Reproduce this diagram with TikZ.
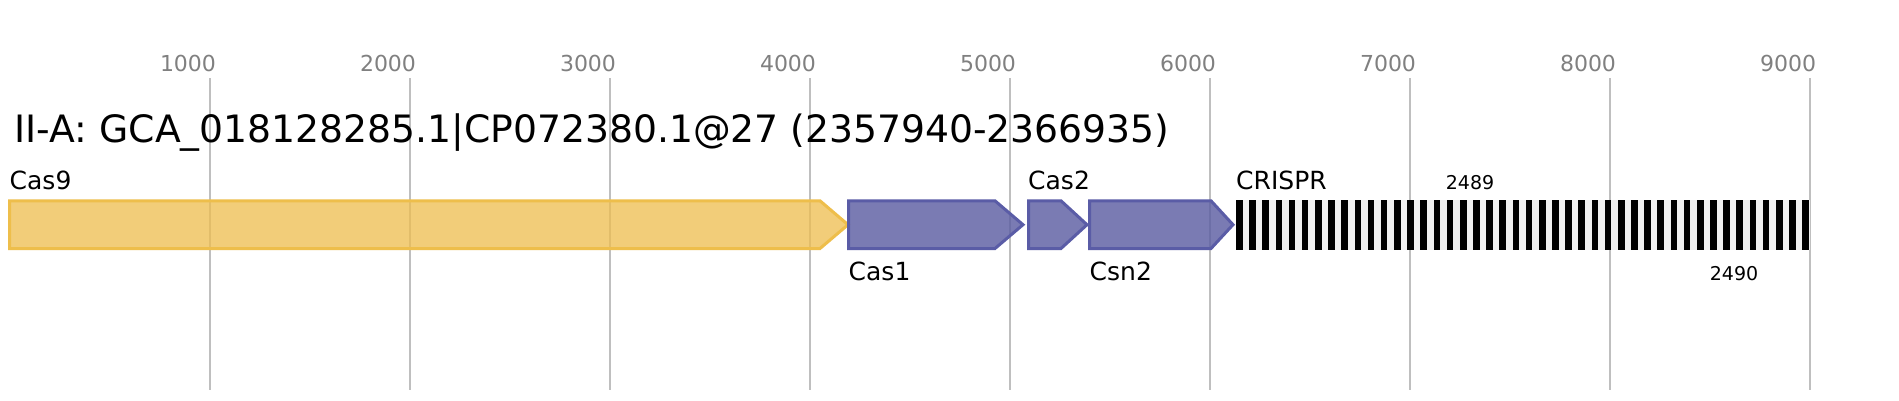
\documentclass[tikz,border=0pt]{standalone}
\usepackage{fontspec}
\setmainfont{DejaVu Sans}
\definecolor{gridc}{RGB}{191,191,191}
\definecolor{axisc}{RGB}{128,128,128}
\definecolor{casY}{RGB}{238,190,75}
\definecolor{casYf}{RGB}{238,189,79}
\definecolor{casP}{RGB}{90,92,166}
\definecolor{casPf}{RGB}{89,91,161}
\definecolor{spacerc}{RGB}{240,240,240}
\tikzset{
  gridline/.style={draw=gridc, line width=2pt},
  axislabel/.style={text=axisc, inner sep=0pt, anchor=base, font=\fontsize{22}{26}\selectfont},
  titlelabel/.style={inner sep=0pt, anchor=base west, font=\fontsize{37.7}{42}\selectfont},
  genelabel/.style={inner sep=0pt, anchor=base west, font=\fontsize{25}{30}\selectfont},
  smalllabel/.style={inner sep=0pt, anchor=base, font=\fontsize{19}{22}\selectfont},
  geneY/.style={draw=casY, fill=casYf, fill opacity=0.755, line width=3pt, line join=miter},
  geneP/.style={draw=casP, fill=casPf, fill opacity=0.8, line width=3pt, line join=miter},
  repeatbar/.style={fill=black},
  spacerbar/.style={fill=spacerc}
}
\begin{document}
\begin{tikzpicture}[x=1pt,y=-1pt]
\useasboundingbox (0,0) rectangle (1899,400);
\fill[white] (0,0) rectangle (1899,400);
% grid and axis
\foreach \k in {1,...,9} {
  \pgfmathsetmacro{\gx}{210+200*(\k-1)}
  \draw[gridline] (\gx,78) -- (\gx,390);
  \node[axislabel] (ax\k) at (\gx-22,71) {\k000};
}
% title
\node[titlelabel] (title) at (14.5,142) {II-A: GCA\_018128285.1|CP072380.1@27 (2357940-2366935)};
% genes
\draw[geneY] (9.5,200.8) -- (820,200.8) -- (848,224.7) -- (820,248.5) -- (9.5,248.5) -- cycle;
\draw[geneP] (848.5,200.8) -- (995,200.8) -- (1023,224.7) -- (995,248.5) -- (848.5,248.5) -- cycle;
\draw[geneP] (1028.5,200.8) -- (1061,200.8) -- (1087,224.7) -- (1061,248.5) -- (1028.5,248.5) -- cycle;
\draw[geneP] (1089.5,200.8) -- (1211,200.8) -- (1233,224.7) -- (1211,248.5) -- (1089.5,248.5) -- cycle;
% CRISPR array
\fill[spacerbar] (1236,199.5) rectangle (1809.5,250);
\foreach \i in {0,...,43} {
  \fill[repeatbar] ({1236+\i*13.17},199.5) rectangle ++(6.6,50.5);
}
% labels
\node[genelabel] (lcas9) at (9.5,189) {Cas9};
\node[genelabel] (lcas1) at (848.5,280) {Cas1};
\node[genelabel] (lcas2) at (1028,189) {Cas2};
\node[genelabel] (lcsn2) at (1089.5,280) {Csn2};
\node[genelabel] (lcrispr) at (1236,189) {CRISPR};
\node[smalllabel] (l2489) at (1470,189) {2489};
\node[smalllabel] (l2490) at (1734,280) {2490};
\end{tikzpicture}
\end{document}
